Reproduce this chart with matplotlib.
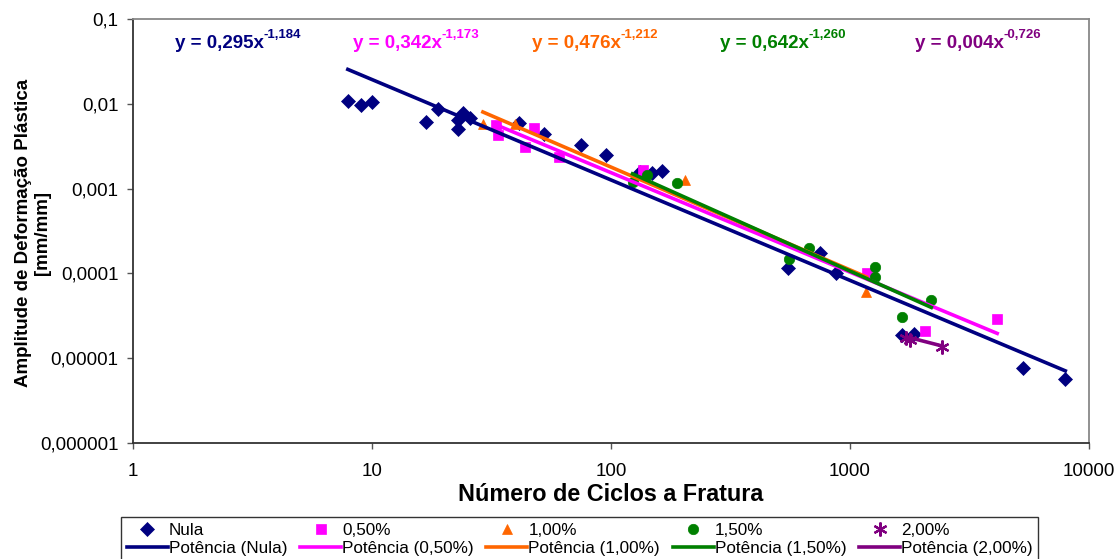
import matplotlib
matplotlib.use('Agg')
import matplotlib.pyplot as plt
from matplotlib.ticker import FixedLocator, FixedFormatter, NullLocator
import numpy as np

# - Fatigue data: cycles to failure vs plastic strain amplitude
nula_ciclos = [7.92, 8.98, 9.98, 16.9, 18.8, 22.8, 22.8, 24.0, 25.6, 41.1, 52.3,
               74.6, 94.9, 131.7, 147.8, 162.8, 552, 752, 877, 1656, 1858, 5310, 7960]
nula_amp = [0.0108, 0.00966, 0.0105, 0.00609, 0.00867, 0.00643, 0.00504, 0.00778,
            0.00679, 0.00593, 0.0044, 0.00326, 0.00248, 0.00157, 0.00152, 0.00161,
            0.000115, 0.000173, 0.000101, 1.87e-5, 1.92e-5, 7.62e-6, 5.65e-6]

p050_ciclos = [33.0, 33.5, 47.5, 43.5, 60.4, 135.5, 1183, 2066, 4130]
p050_amp = [0.0056, 0.0043, 0.00518, 0.00309, 0.00235, 0.00165, 0.000101, 2.08e-5, 2.88e-5]

p100_ciclos = [29.1, 39.5, 203, 1172]
p100_amp = [0.00577, 0.00577, 0.00126, 6.0e-5]

p150_ciclos = [123, 142, 188, 558, 676, 1277, 1277, 1656, 2189]
p150_amp = [0.00119, 0.00144, 0.00116, 0.000147, 0.000199, 0.000118, 9.04e-5, 3.05e-5, 4.83e-5]

p200_ciclos = [1722, 1780, 2434]
p200_amp = [1.72e-5, 1.65e-5, 1.35e-5]

# - Power-law fits y = a * x^b
coef_a = [0.295, 0.342, 0.476, 0.642, 0.004]
coef_b = [-1.184, -1.173, -1.212, -1.260, -0.726]

series_names = ['Nula', '0,50%', '1,00%', '1,50%', '2,00%']

x_ticks = [1, 10, 100, 1000, 10000]
x_labels = ['1', '10', '100', '1000', '10000']
y_ticks = [1e-6, 1e-5, 1e-4, 1e-3, 1e-2, 1e-1]
y_labels = ['0,000001', '0,00001', '0,0001', '0,001', '0,01', '0,1']

plt.rcParams['font.family'] = ['Liberation Sans', 'DejaVu Sans']

colors = ['#000080', '#FF00FF', '#FF6600', '#008000', '#800080']
markers = ['D', 's', '^', 'o', (6, 2, 0)]
msizes = [7, 7.5, 7.5, 7.5, 10]


def comma(v, digits):
    return ('%.*f' % (digits, v)).replace('.', ',')


fig = plt.figure(figsize=(11.2, 5.59), dpi=100)
ax = fig.add_axes([0.1188, 0.2075, 0.8535, 0.7585])

all_x = [nula_ciclos, p050_ciclos, p100_ciclos, p150_ciclos, p200_ciclos]
all_y = [nula_amp, p050_amp, p100_amp, p150_amp, p200_amp]

handles = []
for i in range(5):
    mk, = ax.plot(all_x[i], all_y[i], linestyle='none', marker=markers[i],
                  markersize=msizes[i], color=colors[i], mec=colors[i],
                  mew=1.6 if i == 4 else 0.5, label=series_names[i], zorder=3)
    xs = np.geomspace(min(all_x[i]), max(all_x[i]), 50)
    ln, = ax.plot(xs, coef_a[i] * xs ** coef_b[i], color=colors[i], lw=2.6,
                  label='Potência (%s)' % series_names[i], zorder=4)
    handles += [mk, ln]

# - Fit equations along the top, exponent as a small raised text
eq_x = [175, 353, 532, 720, 915]
for i in range(5):
    t = fig.text(eq_x[i] / 1120, 1 - 43 / 559,
                 'y = %sx' % comma(coef_a[i], 3), color=colors[i],
                 fontsize=13.5, fontweight='bold', ha='left', va='center')
    ax.annotate(comma(coef_b[i], 3), xy=(1.0, 0.62), xycoords=t,
                color=colors[i], fontsize=9.5, fontweight='bold',
                ha='left', va='bottom')

# - Axes
ax.set_xscale('log')
ax.set_yscale('log')
ax.set_xlim(1, 10000)
ax.set_ylim(1e-6, 0.1)
ax.xaxis.set_major_locator(FixedLocator(x_ticks))
ax.xaxis.set_major_formatter(FixedFormatter(x_labels))
ax.yaxis.set_major_locator(FixedLocator(y_ticks))
ax.yaxis.set_major_formatter(FixedFormatter(y_labels))
ax.xaxis.set_minor_locator(NullLocator())
ax.yaxis.set_minor_locator(NullLocator())
ax.tick_params(axis='both', direction='out', length=4.5, width=1,
               color='#555555', labelsize=13.5, labelcolor='black')
ax.tick_params(axis='y', pad=6)
ax.tick_params(axis='x', pad=10)

for border in ('left', 'bottom'):
    ax.spines[border].set_color('#333333')
    ax.spines[border].set_linewidth(1.3)
for border in ('top', 'right'):
    ax.spines[border].set_color('#888888')
    ax.spines[border].set_linewidth(1.3)

ax.set_xlabel('Número de Ciclos a Fratura', fontsize=16.8, fontweight='bold',
              labelpad=2)
ax.set_ylabel('Amplitude de Deformação Plástica\n[mm/mm]', fontsize=13.5,
              fontweight='bold', linespacing=1.15)
ax.yaxis.set_label_coords(-0.0858, 0.495)

leg = fig.legend(handles=handles, ncol=5, loc='upper left',
                 bbox_to_anchor=(121 / 1120, 1 - 517 / 559),
                 fontsize=12.3, frameon=True, fancybox=False, edgecolor='black',
                 handlelength=2.4, handletextpad=0.05, columnspacing=0.75,
                 borderpad=0.35, labelspacing=0.2, borderaxespad=0)
leg.get_frame().set_linewidth(1.0)

fig.savefig('out.png', dpi=100)
